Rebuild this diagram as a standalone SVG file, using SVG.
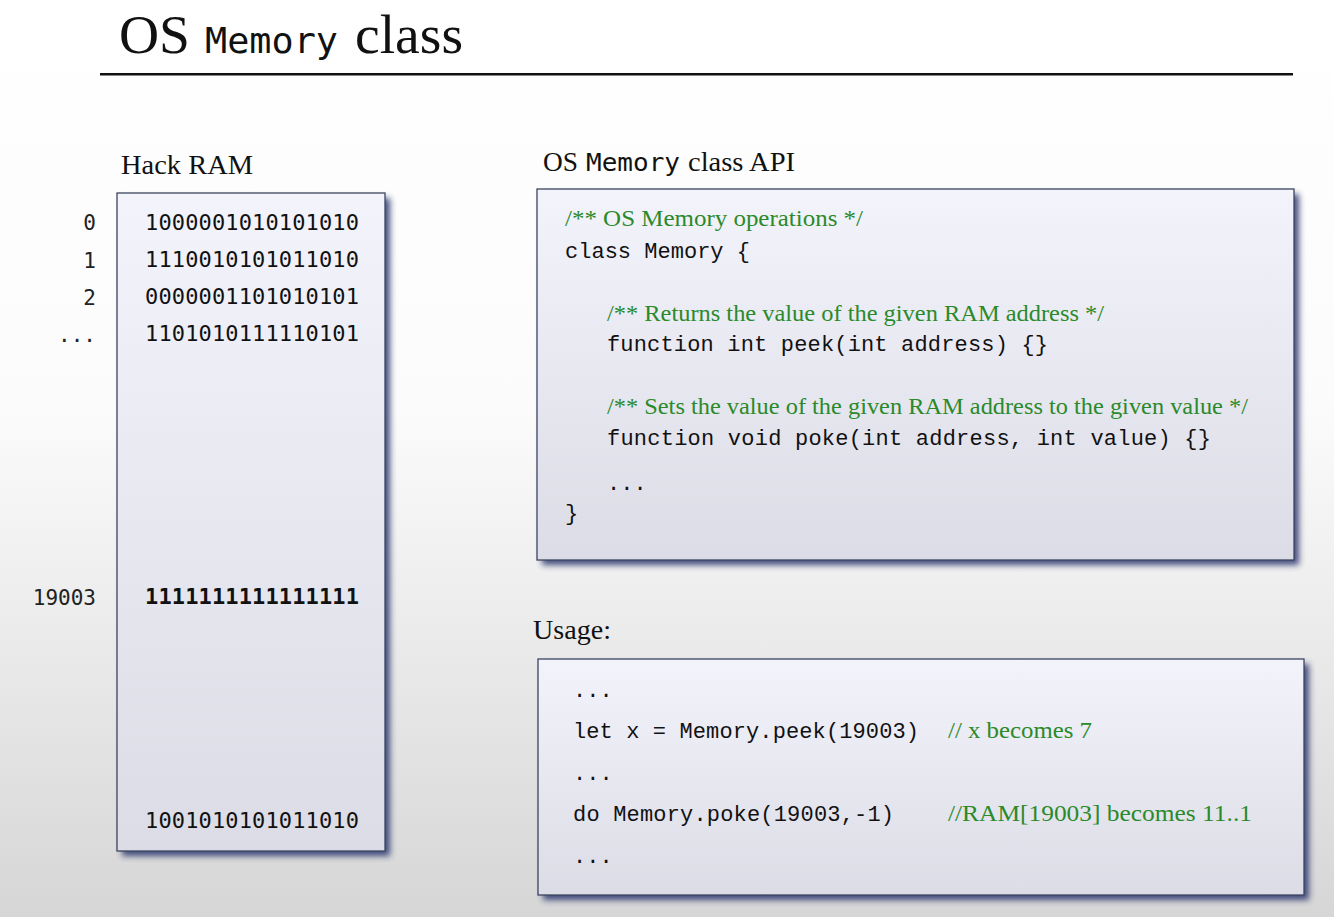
<svg xmlns="http://www.w3.org/2000/svg" width="1334" height="917" viewBox="0 0 1334 917">
<defs>
<linearGradient id="bg" x1="0" y1="0" x2="0" y2="1">
<stop offset="0" stop-color="#ffffff"/>
<stop offset="0.45" stop-color="#fbfbfb"/>
<stop offset="1" stop-color="#d6d6d6"/>
</linearGradient>
<linearGradient id="boxfill" x1="0" y1="0" x2="0" y2="1">
<stop offset="0" stop-color="#f3f3fc"/>
<stop offset="1" stop-color="#dcdce6"/>
</linearGradient>
<filter id="blur" x="-10%" y="-10%" width="120%" height="120%">
<feGaussianBlur stdDeviation="3"/>
</filter>
<style>
.serif{font-family:"Liberation Serif","Times New Roman",serif;fill:#111}
.mono{font-family:"DejaVu Sans Mono","Liberation Mono",monospace;fill:#111}
.code{font-family:"Liberation Mono","DejaVu Sans Mono",monospace;font-size:22px;fill:#111}
.cmt{font-family:"Liberation Serif","Times New Roman",serif;font-size:24px;fill:#2a8a2a}
.box{fill:url(#boxfill);stroke:#3c4660;stroke-width:1.3}
.shadow{fill:#28306a;opacity:0.85;filter:url(#blur)}
.bin{font-family:"DejaVu Sans Mono","Liberation Mono",monospace;font-size:22px;fill:#111}
.addr{font-family:"DejaVu Sans Mono","Liberation Mono",monospace;font-size:21px;fill:#222;text-anchor:end}
</style>
</defs>
<rect x="0" y="0" width="1334" height="917" fill="url(#bg)"/>

<g id="title">
<text x="119" y="53" class="serif" font-size="54" textLength="71" lengthAdjust="spacingAndGlyphs">OS</text>
<text x="205" y="53" class="mono" font-size="36" textLength="133" lengthAdjust="spacingAndGlyphs">Memory</text>
<text x="355" y="53" class="serif" font-size="54" textLength="108" lengthAdjust="spacingAndGlyphs">class</text>
<rect x="100" y="73" width="1193" height="2.5" fill="#111"/>
</g>

<g id="hack-ram">
<text x="121" y="174" class="serif" font-size="27" textLength="132" lengthAdjust="spacingAndGlyphs">Hack RAM</text>
<rect x="122" y="198" width="268" height="658" class="shadow"/>
<rect x="117" y="193" width="268" height="658" class="box"/>
<text x="96" y="230" class="addr">0</text>
<text x="96" y="268" class="addr">1</text>
<text x="96" y="305" class="addr">2</text>
<text x="96" y="342" class="addr">...</text>
<text x="96" y="605" class="addr">19003</text>
<text x="145" y="230" class="bin" textLength="214">1000001010101010</text>
<text x="145" y="267" class="bin" textLength="214">1110010101011010</text>
<text x="145" y="304" class="bin" textLength="214">0000001101010101</text>
<text x="145" y="341" class="bin" textLength="214">1101010111110101</text>
<text x="145" y="604" class="bin" font-weight="bold" textLength="214">1111111111111111</text>
<text x="145" y="828" class="bin" textLength="214">1001010101011010</text>
</g>

<g id="api">
<text x="543" y="171" class="serif" font-size="27" textLength="35" lengthAdjust="spacingAndGlyphs">OS</text>
<text x="586" y="171" class="mono" font-size="24" textLength="94" lengthAdjust="spacingAndGlyphs">Memory</text>
<text x="688" y="171" class="serif" font-size="27" textLength="107" lengthAdjust="spacingAndGlyphs">class API</text>
<rect x="542" y="194" width="757" height="371" class="shadow"/>
<rect x="537" y="189" width="757" height="371" class="box"/>
<text x="565" y="226" class="cmt" textLength="298" lengthAdjust="spacingAndGlyphs">/** OS Memory operations  */</text>
<text x="565" y="258" class="code" textLength="185">class Memory {</text>
<text x="607" y="321" class="cmt" textLength="497" lengthAdjust="spacingAndGlyphs">/** Returns the value of the given RAM address */</text>
<text x="607" y="351" class="code" textLength="441">function int peek(int address) {}</text>
<text x="607" y="414" class="cmt" textLength="641" lengthAdjust="spacingAndGlyphs">/** Sets the value of the given RAM address to the given value */</text>
<text x="607" y="445" class="code" textLength="604">function void poke(int address, int value) {}</text>
<text x="607" y="490" class="code">...</text>
<text x="565" y="520" class="code">}</text>
</g>

<g id="usage">
<text x="533" y="639" class="serif" font-size="27" textLength="78" lengthAdjust="spacingAndGlyphs">Usage:</text>
<rect x="543" y="664" width="766" height="236" class="shadow"/>
<rect x="538" y="659" width="766" height="236" class="box"/>
<text x="573" y="697" class="code">...</text>
<text x="573" y="738" class="code" textLength="346">let x = Memory.peek(19003)</text>
<text x="948" y="738" class="cmt" textLength="144" lengthAdjust="spacingAndGlyphs">// x becomes 7</text>
<text x="573" y="780" class="code">...</text>
<text x="573" y="821" class="code" textLength="321">do Memory.poke(19003,-1)</text>
<text x="948" y="821" class="cmt" textLength="304" lengthAdjust="spacingAndGlyphs">//RAM[19003] becomes 11..1</text>
<text x="573" y="863" class="code">...</text>
</g>

<g id="connectors"></g>
</svg>
